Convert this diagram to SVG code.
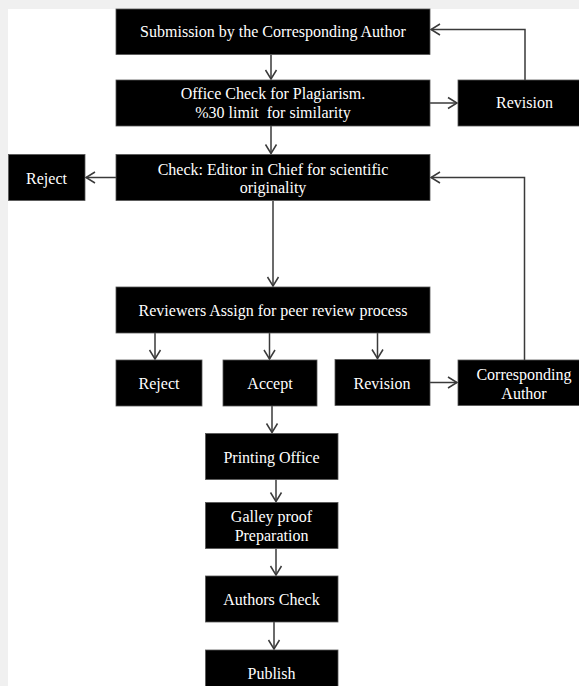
<svg xmlns="http://www.w3.org/2000/svg" width="579" height="686" viewBox="0 0 579 686">
<style>
  .box { fill: #000000; stroke: #555555; stroke-width: 0.8; }
  .lbl { fill: #ffffff; font-family: "Liberation Serif", "Times New Roman", serif; font-size: 16px; text-anchor: middle; }
  .conn { fill: none; stroke: #3a3a3a; stroke-width: 1.5; }
</style>
<defs>
  <marker id="arr" markerUnits="userSpaceOnUse" markerWidth="14" markerHeight="14" viewBox="0 0 14 14" refX="11" refY="7" orient="auto">
    <path d="M2,1.5 L11,7 L2,12.5" fill="none" stroke="#3a3a3a" stroke-width="1.5"/>
  </marker>
</defs>
<rect x="0" y="0" width="579" height="686" fill="#f0f0f0"/>
<rect x="8" y="9" width="571" height="677" fill="#ffffff"/>

<g id="connectors">
  <path class="conn" d="M271,55 V79" marker-end="url(#arr)"/>
  <path class="conn" d="M430,103 H457" marker-end="url(#arr)"/>
  <path class="conn" d="M525,80 V29.5 H431" marker-end="url(#arr)"/>
  <path class="conn" d="M271,126 V153.5" marker-end="url(#arr)"/>
  <path class="conn" d="M116,177.5 H86" marker-end="url(#arr)"/>
  <path class="conn" d="M273,201 V286" marker-end="url(#arr)"/>
  <path class="conn" d="M155,333 V359" marker-end="url(#arr)"/>
  <path class="conn" d="M269.5,333 V359" marker-end="url(#arr)"/>
  <path class="conn" d="M377.5,333 V358.5" marker-end="url(#arr)"/>
  <path class="conn" d="M430,382.5 H457" marker-end="url(#arr)"/>
  <path class="conn" d="M524.5,360 V177.5 H431" marker-end="url(#arr)"/>
  <path class="conn" d="M272,406 V432.5" marker-end="url(#arr)"/>
  <path class="conn" d="M276,479.5 V501.5" marker-end="url(#arr)"/>
  <path class="conn" d="M276,548.5 V575" marker-end="url(#arr)"/>
  <path class="conn" d="M274,622 V649" marker-end="url(#arr)"/>
</g>

<g id="submission">
  <rect class="box" x="116" y="9" width="314" height="45.5"/>
  <text class="lbl" x="273" y="37">Submission by the Corresponding Author</text>
</g>
<g id="office-check">
  <rect class="box" x="116" y="80" width="314" height="46"/>
  <text class="lbl" x="273" y="99">Office Check for Plagiarism.</text>
  <text class="lbl" x="273" y="118" xml:space="preserve">%30 limit  for similarity</text>
</g>
<g id="revision-1">
  <rect class="box" x="458" y="80" width="125" height="46"/>
  <text class="lbl" x="524.5" y="108">Revision</text>
</g>
<g id="editor-check">
  <rect class="box" x="116" y="154.5" width="314" height="46"/>
  <text class="lbl" x="273" y="174.5">Check: Editor in Chief for scientific</text>
  <text class="lbl" x="273" y="192.5">originality</text>
</g>
<g id="reject-1">
  <rect class="box" x="8.5" y="154.5" width="76.5" height="46"/>
  <text class="lbl" x="46.5" y="183.5">Reject</text>
</g>
<g id="reviewers">
  <rect class="box" x="116" y="287" width="314" height="46"/>
  <text class="lbl" x="273" y="316">Reviewers Assign for peer review process</text>
</g>
<g id="reject-2">
  <rect class="box" x="116" y="360" width="86" height="46"/>
  <text class="lbl" x="159" y="389">Reject</text>
</g>
<g id="accept">
  <rect class="box" x="223" y="360" width="94" height="46"/>
  <text class="lbl" x="270" y="389">Accept</text>
</g>
<g id="revision-2">
  <rect class="box" x="335" y="359.5" width="95" height="46"/>
  <text class="lbl" x="382" y="388.5">Revision</text>
</g>
<g id="corresponding-author">
  <rect class="box" x="458" y="360" width="125" height="45.5"/>
  <text class="lbl" x="524" y="380">Corresponding</text>
  <text class="lbl" x="524" y="398.5">Author</text>
</g>
<g id="printing-office">
  <rect class="box" x="205.5" y="433.5" width="132.5" height="46"/>
  <text class="lbl" x="271.5" y="463">Printing Office</text>
</g>
<g id="galley-proof">
  <rect class="box" x="205.5" y="502.5" width="132.5" height="46"/>
  <text class="lbl" x="271.5" y="522">Galley proof</text>
  <text class="lbl" x="271.5" y="541">Preparation</text>
</g>
<g id="authors-check">
  <rect class="box" x="205.5" y="576" width="132.5" height="46"/>
  <text class="lbl" x="271.5" y="604.5">Authors Check</text>
</g>
<g id="publish">
  <rect class="box" x="205.5" y="650" width="132.5" height="40"/>
  <text class="lbl" x="271.5" y="678.5">Publish</text>
</g>
</svg>
